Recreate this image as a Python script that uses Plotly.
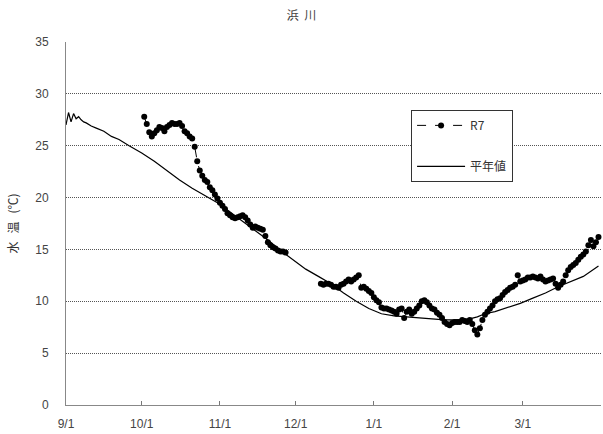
import plotly.graph_objects as go
import pandas as pd

# ---- data ----
title_text = "浜\u00a0\u00a0川"
y_title = "水\u00a0\u00a0\u00a0温\u00a0\u00a0\u00a0(℃)"
base_date = "2025-09-01"

tick_dates = ["2025-09-01", "2025-10-01", "2025-11-01", "2025-12-01",
              "2026-01-01", "2026-02-01", "2026-03-01", "2026-04-01"]
tick_labels = ["9/1", "10/1", "11/1", "12/1", "1/1", "2/1", "3/1", ""]
y_ticks = [0, 5, 10, 15, 20, 25, 30, 35]

# 平年値 (normal values): day offset from 9/1 and value
avg_days = [0, 1, 2, 3, 4, 5, 6, 7, 8, 10, 12, 15, 18, 21, 25, 30, 35, 40, 45, 50,
            55, 60, 65, 70, 75, 80, 85, 90, 95, 100, 105, 110, 115, 120, 125, 130,
            135, 140, 145, 150, 155, 160, 163, 166, 170, 175, 180, 185, 190, 195,
            200, 205, 211]
avg_values = [27.0, 28.2, 27.3, 28.1, 27.6, 27.8, 27.5, 27.3, 27.2, 26.9, 26.7, 26.4,
              25.9, 25.6, 25.0, 24.3, 23.5, 22.6, 21.7, 20.9, 20.2, 19.5, 18.6, 17.7,
              16.8, 15.9, 14.9, 14.0, 13.1, 12.4, 11.7, 10.8, 10.0, 9.3, 8.8, 8.6,
              8.5, 8.4, 8.3, 8.2, 8.2, 8.3, 8.5, 8.8, 9.0, 9.4, 9.8, 10.3, 10.8, 11.4,
              11.9, 12.4, 13.4]

# R7 daily values starting 10/2 (None = no data)
r7_start = "2025-10-02"
r7_values = [
    27.8, 27.1, 26.3, 25.9, 26.2, 26.5, 26.8, 26.7, 26.4, 26.8,
    27.0, 27.2, 27.1, 27.1, 27.2, 26.9, 26.4, 26.2, 25.9, 25.7,
    24.9, 23.5, 22.6, 22.1, 21.7, 21.5, 21.0, 20.7, 20.3, 19.9,
    19.5, 19.2, 18.9, 18.5, 18.3, 18.1, 18.0, 18.1, 18.2, 18.3,
    18.1, 17.8, 17.4, 17.1, 17.2, 17.1, 17.0, 16.9, 16.3, 15.7,
    15.4, 15.2, 15.1, 14.9, 14.8, 14.8, 14.7,
    None, None, None, None, None, None, None, None, None, None, None, None, None,
    11.7, 11.6, 11.7, 11.7, 11.6, 11.4, 11.4, 11.3, 11.6, 11.7,
    11.9, 12.1, 11.9, 12.1, 12.3, 12.5, 11.3, 11.4, 11.2, 11.0,
    10.8, 10.4, 10.1, 9.9, 9.4, 9.3, 9.3, 9.2, 9.1, 9.0,
    8.8, 9.2, 9.3, 8.4, 9.0, 9.2, 8.8, 9.0, 9.3, 9.6,
    10.0, 10.1, 9.9, 9.6, 9.3, 9.2, 8.9, 8.7, 8.4, 8.0,
    7.8, 7.7, 7.9, 8.0, 8.0, 8.0, 8.2, 8.1, 8.0, 8.2,
    7.8, 7.2, 6.8, 7.4, 8.2, 8.7, 9.0, 9.3, 9.6, 10.0,
    10.2, 10.3, 10.6, 10.9, 11.1, 11.3, 11.4, 11.6, 12.5, 11.9,
    12.0, 12.1, 12.3, 12.3, 12.4, 12.3, 12.2, 12.4, 12.1, 11.9,
    12.0, 12.1, 12.2, 11.7, 11.3, 11.6, 11.9, 12.5, 13.0, 13.3,
    13.5, 13.7, 14.0, 14.3, 14.5, 14.8, 15.4, 15.9, 15.3, 15.7,
    16.2,
]

# ---- build ----
avg_dates = pd.Timestamp(base_date) + pd.to_timedelta(avg_days, unit="D")
r7_dates = pd.date_range(r7_start, periods=len(r7_values), freq="D")

FONT = "Liberation Sans, Arial, Noto Sans CJK JP, sans-serif"
TXT = "#444444"

fig = go.Figure()
fig.add_trace(go.Scatter(
    x=r7_dates, y=r7_values, name="R7", mode="lines+markers",
    line=dict(color="black", width=1, dash="dash"),
    marker=dict(color="black", size=6, symbol="circle"),
    connectgaps=False, legendgroup="a", cliponaxis=False,
))
fig.add_trace(go.Scatter(
    x=avg_dates, y=avg_values, name="平年値", mode="lines",
    line=dict(color="black", width=1.2), legendgroup="b",
))

fig.update_layout(
    width=603, height=434,
    margin=dict(l=66, r=2, t=42, b=29, autoexpand=False),
    paper_bgcolor="white", plot_bgcolor="white",
    font=dict(family=FONT, size=12, color=TXT),
    title=dict(text=title_text, x=0.5, xref="container", y=1 - 16 / 434,
               yanchor="middle", xanchor="center",
               font=dict(family="Noto Sans CJK JP", size=12, color=TXT)),
    showlegend=True,
    legend=dict(x=0.645, y=0.813, xanchor="left", yanchor="top",
                bordercolor="#333333", borderwidth=1, bgcolor="white",
                font=dict(family="Noto Sans CJK JP, Liberation Sans", size=12, color="#333333"),
                traceorder="grouped", tracegroupgap=22,
                itemwidth=48),
)
fig.update_xaxes(
    type="date", range=[tick_dates[0], tick_dates[-1]],
    tickmode="array", tickvals=tick_dates, ticktext=tick_labels,
    ticks="inside", ticklen=4, tickcolor="#777777",
    showline=True, linecolor="#888888", linewidth=1,
    showgrid=False, zeroline=False, ticklabelstandoff=8,
    tickfont=dict(size=12, color=TXT), automargin=False,
)
fig.update_yaxes(
    range=[0, 35], tickmode="array", tickvals=y_ticks,
    showline=True, linecolor="#888888", linewidth=1,
    showgrid=True, gridcolor="#555555", griddash="1px,1px", gridwidth=1,
    zeroline=False, ticks="", ticklabelstandoff=14,
    tickfont=dict(size=12, color=TXT), automargin=False,
    title=dict(text=y_title, standoff=14,
               font=dict(family="Noto Sans CJK JP", size=12, color="#333333")),
)

fig.write_html("out.html", config={"displayModeBar": False},
               post_script="document.body.style.margin='0';")
